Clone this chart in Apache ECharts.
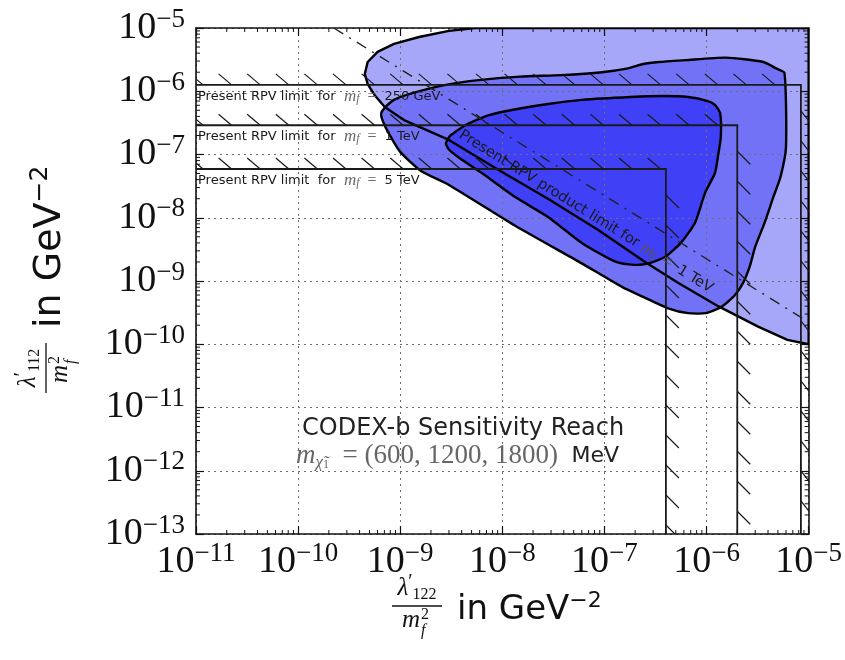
<!DOCTYPE html>
<html>
<head>
<meta charset="utf-8">
<title>CODEX-b Sensitivity Reach</title>
<script src="https://cdn.jsdelivr.net/npm/echarts@6.0.0/dist/echarts.min.js"></script>
<style>
html,body{margin:0;padding:0;background:#ffffff;}
#chart{width:845px;height:660px;}
</style>
</head>
<body>
<div id="chart"></div>
<script>
// ---------------- data (GeV^-2) ----------------
const xTickValues = [1e-11, 1e-10, 1e-9, 1e-8, 1e-7, 1e-6, 1e-5];
const yTickValues = [1e-13, 1e-12, 1e-11, 1e-10, 1e-9, 1e-8, 1e-7, 1e-6, 1e-5];
const neutralinoMasses = [600, 1200, 1800]; // MeV

// outer (lightest) sensitivity region
const lightX = [4.5e-10, 4.8e-10, 6.0e-10, 8.7e-10, 1.53e-9, 3.0e-9, 5.4e-9, 1e-5, 1e-5, 6.2e-6, 3.2e-6, 1.3e-6, 5.3e-7, 2.5e-7, 8.7e-8, 2.8e-8, 9.2e-9, 3.0e-9, 1.09e-9, 7.1e-10, 5.7e-10, 4.8e-10];
const lightY = [1.87e-6, 2.9e-6, 4.2e-6, 5.6e-6, 7.2e-6, 9.0e-6, 1e-5, 1e-5, 1.0e-10, 1.17e-10, 1.9e-10, 4.0e-10, 9.3e-10, 2.0e-9, 6.4e-9, 2.0e-8, 5.7e-8, 1.7e-7, 3.5e-7, 5.6e-7, 8.4e-7, 1.3e-6];

// middle region
const mediumX = [6.5e-10, 7.0e-10, 8.7e-10, 1.34e-9, 2.8e-9, 5.9e-9, 1.5e-8, 3.8e-8, 9.5e-8, 1.7e-7, 2.4e-7, 3.4e-7, 6.2e-7, 1.55e-6, 3.6e-6, 4.8e-6, 5.8e-6, 6.0e-6, 5.3e-6, 4.5e-6, 3.7e-6, 3.0e-6, 2.65e-6, 2.3e-6, 1.9e-6, 1.4e-6, 9.9e-7, 6.6e-7, 4.2e-7, 2.4e-7, 1.5e-7, 6.0e-8, 1.35e-8, 3.0e-9, 1.6e-9, 1.0e-9, 7.8e-10, 6.8e-10];
const mediumY = [4.4e-7, 5.4e-7, 7.3e-7, 9.4e-7, 1.26e-6, 1.5e-6, 1.7e-6, 1.8e-6, 2.0e-6, 2.3e-6, 2.7e-6, 2.9e-6, 3.1e-6, 3.4e-6, 2.9e-6, 2.3e-6, 1.95e-6, 1.3e-7, 4.4e-8, 2.1e-8, 8.3e-9, 3.5e-9, 1.7e-9, 9.6e-10, 6.0e-10, 3.9e-10, 3.1e-10, 3.1e-10, 3.7e-10, 5.6e-10, 8.0e-10, 1.9e-9, 7.4e-9, 3.3e-8, 5.5e-8, 1.1e-7, 2.1e-7, 3.3e-7];

// inner (darkest) region
const darkX = [2.8e-9, 3.1e-9, 3.9e-9, 4.7e-9, 7.4e-9, 1.35e-8, 2.8e-8, 6.0e-8, 1.8e-7, 3.8e-7, 6.6e-7, 1.03e-6, 1.21e-6, 1.36e-6, 1.38e-6, 1.3e-6, 1.21e-6, 9.7e-7, 7.7e-7, 5.6e-7, 3.9e-7, 2.7e-7, 2.0e-7, 1.3e-7, 6.0e-8, 2.8e-8, 1.35e-8, 6.3e-9, 3.8e-9, 3.0e-9];
const darkY = [1.5e-7, 2.0e-7, 2.6e-7, 3.1e-7, 4.2e-7, 5.2e-7, 6.3e-7, 7.3e-7, 8.1e-7, 8.4e-7, 8.1e-7, 7.0e-7, 6.1e-7, 4.5e-7, 1.9e-7, 9.8e-8, 5.1e-8, 2.5e-8, 8.3e-9, 4.0e-9, 2.4e-9, 1.9e-9, 1.8e-9, 2.0e-9, 4.0e-9, 1.03e-8, 2.1e-8, 5.1e-8, 8.8e-8, 1.2e-7];

// present single-coupling RPV limits
const limitMasses = ['250 GeV', '1 TeV', '5 TeV'];
const limitX = [8.4e-6, 2.0e-6, 4.0e-7];
const limitY = [1.26e-6, 2.9e-7, 5.9e-8];

// present product limit (m_f = 1 TeV)
const productLimitX = [2.24e-10, 1e-5];
const productLimitY = [1e-5, 2.24e-10];

// ---------------- styling ----------------
const regionColors = ['#a7a7f9', '#7272f6', '#4040f7'];
const SERIF = 'Liberation Serif';
const SANS = 'DejaVu Sans';
const INK = '#111111';
const XMIN = xTickValues[0], XMAX = xTickValues[xTickValues.length - 1];
const YMIN = yTickValues[0], YMAX = yTickValues[yTickValues.length - 1];

function tickFmt(v) {
  const e = Math.round(Math.log10(v));
  return '{b|10}{s|\u2212' + Math.abs(e) + '}';
}
const tickRich = {
  b: { fontFamily: SERIF, fontSize: 38, lineHeight: 44, color: INK },
  s: { fontFamily: SERIF, fontSize: 27, lineHeight: 20, verticalAlign: 'top', color: INK }
};

function baseAxis(extra) {
  return Object.assign({
    type: 'log', logBase: 10, z: 3,
    axisLine: { show: true, onZero: false, lineStyle: { color: INK, width: 1.6 } },
    axisTick: { show: true, inside: true, length: 8, lineStyle: { color: INK, width: 1.2 } },
    minorTick: { show: false },
    splitLine: { show: false },
    axisLabel: { show: false }
  }, extra);
}

function regionSeries(xs, ys, fill, smooth) {
  return {
    type: 'custom', silent: true, clip: true, z: fill ? 1 : 4,
    xAxisIndex: 0, yAxisIndex: 0,
    data: [[xs[0], ys[0]]], encode: { x: 0, y: 1 },
    renderItem: function (params, api) {
      const pts = xs.map(function (x, i) { return api.coord([x, ys[i]]); });
      return {
        type: 'polygon', shape: { points: pts, smooth: smooth },
        style: fill ? { fill: fill, stroke: 'none' } : { fill: 'none', stroke: '#000', lineWidth: 2.4, lineJoin: 'round' }
      };
    }
  };
}

const mathRich = {
  t: { fontFamily: SANS, fontSize: 13, fill: '#1a1a1a' },
  m: { fontFamily: SERIF, fontStyle: 'italic', fontSize: 17, fill: '#6a6a6a' },
  f: { fontFamily: SERIF, fontStyle: 'italic', fontSize: 12, fill: '#6a6a6a', verticalAlign: 'bottom', lineHeight: 12 },
  q: { fontFamily: SERIF, fontSize: 16, fill: '#6a6a6a' }
};

const limitSeries = {
  type: 'custom', silent: true, clip: true, z: 4,
  xAxisIndex: 0, yAxisIndex: 0,
  data: limitX.map(function (x, i) { return [x, limitY[i], i]; }),
  encode: { x: 0, y: 1 },
  renderItem: function (params, api) {
    const x = api.value(0), y = api.value(1), i = api.value(2);
    const c = api.coord([x, y]);
    const l = api.coord([XMIN, y]);
    const b = api.coord([x, YMIN]);
    const children = [{
      type: 'polyline', shape: { points: [l, c, b] },
      style: { fill: 'none', stroke: '#1a1a1a', lineWidth: 1.8 }
    }];
    for (let hx = l[0] + 7; hx <= c[0] + 1; hx += 28.6) {
      children.push({ type: 'line', shape: { x1: hx - 13, y1: c[1] - 11, x2: hx, y2: c[1] }, style: { stroke: '#1a1a1a', lineWidth: 1.2 } });
    }
    for (let hy = c[1] + 26; hy <= b[1] - 4; hy += 30) {
      children.push({ type: 'line', shape: { x1: c[0], y1: hy, x2: Math.min(c[0] + 13, 811), y2: hy + 13 }, style: { stroke: '#1a1a1a', lineWidth: 1.2 } });
    }
    children.push({
      type: 'text', x: l[0] + 2, y: c[1] + 3,
      style: {
        text: '{t|Present RPV limit  for }{m| m}{f|f}{q|  =  }{t|' + limitMasses[i] + '}',
        rich: mathRich, align: 'left', verticalAlign: 'top', textAlign: 'left', textVerticalAlign: 'top'
      }
    });
    return { type: 'group', children: children };
  }
};

const productLabelSeries = {
  type: 'custom', silent: true, z: 4,
  xAxisIndex: 0, yAxisIndex: 0,
  data: [[productLimitX[0], productLimitY[0]]], encode: { x: 0, y: 1 },
  renderItem: function (params, api) {
    const p1 = api.coord([productLimitX[0], productLimitY[0]]);
    const p2 = api.coord([productLimitX[1], productLimitY[1]]);
    const ang = Math.atan2(p2[1] - p1[1], p2[0] - p1[0]);
    const a = api.coord([4.3e-9, 2.8e-7]);
    return {
      type: 'text', x: a[0], y: a[1], rotation: -ang,
      style: {
        text: '{t|Present RPV product limit for }{m|m}{f|f}{q|  =  }{t|1 TeV}',
        rich: {
          t: { fontFamily: SANS, fontSize: 14.5, fill: '#1a1a1a' },
          m: { fontFamily: SERIF, fontStyle: 'italic', fontSize: 18, fill: '#555' },
          f: { fontFamily: SERIF, fontStyle: 'italic', fontSize: 12, fill: '#555', verticalAlign: 'bottom', lineHeight: 12 },
          q: { fontFamily: SERIF, fontSize: 17, fill: '#555' }
        },
        align: 'left', verticalAlign: 'top', textAlign: 'left', textVerticalAlign: 'top'
      }
    };
  }
};

const minorTickSeries = {
  type: 'custom', silent: true, z: 3,
  xAxisIndex: 0, yAxisIndex: 0,
  data: [[XMIN, YMIN]], encode: { x: 0, y: 1 },
  renderItem: function (params, api) {
    const ch = [];
    const st = { stroke: INK, lineWidth: 1 };
    for (let d = 0; d < xTickValues.length - 1; d++) {
      for (let k = 2; k <= 9; k++) {
        const v = xTickValues[d] * k;
        const pb = api.coord([v, YMIN]), pt = api.coord([v, YMAX]);
        ch.push({ type: 'line', shape: { x1: pb[0], y1: pb[1], x2: pb[0], y2: pb[1] - 4 }, style: st });
        ch.push({ type: 'line', shape: { x1: pt[0], y1: pt[1], x2: pt[0], y2: pt[1] + 4 }, style: st });
      }
    }
    for (let d = 0; d < yTickValues.length - 1; d++) {
      for (let k = 2; k <= 9; k++) {
        const v = yTickValues[d] * k;
        const pl = api.coord([XMIN, v]), pr = api.coord([XMAX, v]);
        ch.push({ type: 'line', shape: { x1: pl[0], y1: pl[1], x2: pl[0] + 4, y2: pl[1] }, style: st });
        ch.push({ type: 'line', shape: { x1: pr[0], y1: pr[1], x2: pr[0] - 4, y2: pr[1] }, style: st });
      }
    }
    return { type: 'group', children: ch };
  }
};

function fracTitle(sub, big) {
  const fx = -80;
  return [
    { type: 'text', x: fx, y: -3, style: {
        text: '{l|\u03bb}{p|\u2032}{s|' + sub + '}',
        rich: {
          l: { fontFamily: SERIF, fontStyle: 'italic', fontSize: 25, fill: INK, lineHeight: 30 },
          p: { fontFamily: SERIF, fontSize: 20, fill: INK, verticalAlign: 'top', lineHeight: 22 },
          s: { fontFamily: SERIF, fontSize: 16, fill: INK, verticalAlign: 'bottom', lineHeight: 16 }
        },
        align: 'center', verticalAlign: 'bottom', textAlign: 'center', textVerticalAlign: 'bottom' } },
    { type: 'line', shape: { x1: fx - 25, y1: 0, x2: fx + 25, y2: 0 }, style: { stroke: INK, lineWidth: 1.3 } },
    { type: 'text', x: fx - 6, y: 2, style: { text: 'm', fontFamily: SERIF, fontStyle: 'italic', fontSize: 25, fill: INK,
        align: 'center', verticalAlign: 'top', textAlign: 'center', textVerticalAlign: 'top' } },
    { type: 'text', x: fx + 4, y: 1, style: { text: '2', fontFamily: SERIF, fontSize: 16, fill: INK,
        align: 'left', verticalAlign: 'top', textAlign: 'left', textVerticalAlign: 'top' } },
    { type: 'text', x: fx + 4, y: 17, style: { text: 'f', fontFamily: SERIF, fontStyle: 'italic', fontSize: 16, fill: INK,
        align: 'left', verticalAlign: 'top', textAlign: 'left', textVerticalAlign: 'top' } },
    { type: 'text', x: -40, y: 4, style: {
        text: '{a|in GeV}{s|\u22122}',
        rich: {
          a: { fontFamily: SANS, fontSize: big, fill: INK, lineHeight: big + 6 },
          s: { fontFamily: SANS, fontSize: Math.round(big * 0.66), fill: INK, verticalAlign: 'top', lineHeight: 20 }
        },
        align: 'left', verticalAlign: 'middle', textAlign: 'left', textVerticalAlign: 'middle' } }
  ];
}

const option = {
  animation: false,
  backgroundColor: '#ffffff',
  grid: { left: 196, top: 28, width: 615, height: 506, containLabel: false },
  xAxis: [
    baseAxis({ position: 'bottom', min: XMIN, max: XMAX, splitNumber: 6,
      splitLine: { show: true, lineStyle: { color: '#6f6f6f', type: [2, 4], width: 1 } },
      axisLabel: { show: true, formatter: tickFmt, rich: tickRich, margin: 6, showMinLabel: true, showMaxLabel: true } }),
    baseAxis({ position: 'top', min: XMIN, max: XMAX, splitNumber: 6 })
  ],
  yAxis: [
    baseAxis({ position: 'left', min: YMIN, max: YMAX, splitNumber: 8,
      splitLine: { show: true, lineStyle: { color: '#6f6f6f', type: [2, 4], width: 1 } },
      axisLabel: { show: true, formatter: tickFmt, rich: tickRich, margin: 11, showMinLabel: true, showMaxLabel: true } }),
    baseAxis({ position: 'right', min: YMIN, max: YMAX, splitNumber: 8 })
  ],
  series: [
    regionSeries(lightX, lightY, regionColors[0], 0),
    regionSeries(mediumX, mediumY, regionColors[1], 0.2),
    regionSeries(darkX, darkY, regionColors[2], 0.2),
    regionSeries(lightX, lightY, null, 0),
    regionSeries(mediumX, mediumY, null, 0.2),
    regionSeries(darkX, darkY, null, 0.2),
    limitSeries,
    {
      type: 'line', z: 4, silent: true, symbol: 'none', xAxisIndex: 0, yAxisIndex: 0,
      data: productLimitX.map(function (x, i) { return [x, productLimitY[i]]; }),
      lineStyle: { color: '#222', width: 1.4, type: [11, 7, 2, 7] }
    },
    productLabelSeries,
    minorTickSeries
  ],
  graphic: [
    { type: 'group', x: 497, y: 606, children: fracTitle('122', 34) },
    { type: 'group', x: 46, y: 288, rotation: Math.PI / 2, children: fracTitle('112', 38) },
    { type: 'text', x: 302, y: 417, z: 10, style: { text: 'CODEX-b Sensitivity Reach', fontFamily: SANS, fontSize: 24, fill: '#222',
        align: 'left', verticalAlign: 'top', textAlign: 'left', textVerticalAlign: 'top' } },
    { type: 'text', x: 296, y: 441, z: 10, style: {
        text: '{m|m}{c|\u03c7\u0303}{d|1}{q|  = (' + neutralinoMasses.join(', ') + ')  }{u|MeV}',
        rich: {
          m: { fontFamily: SERIF, fontStyle: 'italic', fontSize: 27, fill: '#666', lineHeight: 30 },
          c: { fontFamily: SERIF, fontStyle: 'italic', fontSize: 17, fill: '#666', verticalAlign: 'bottom', lineHeight: 20 },
          d: { fontFamily: SERIF, fontSize: 12, fill: '#666', verticalAlign: 'bottom', lineHeight: 11 },
          q: { fontFamily: SERIF, fontSize: 27, fill: '#666', lineHeight: 30 },
          u: { fontFamily: SANS, fontSize: 22, fill: '#222', lineHeight: 30 }
        },
        align: 'left', verticalAlign: 'top', textAlign: 'left', textVerticalAlign: 'top' } }
  ]
};

const chart = echarts.init(document.getElementById('chart'));
chart.setOption(option);
</script>
</body>
</html>
